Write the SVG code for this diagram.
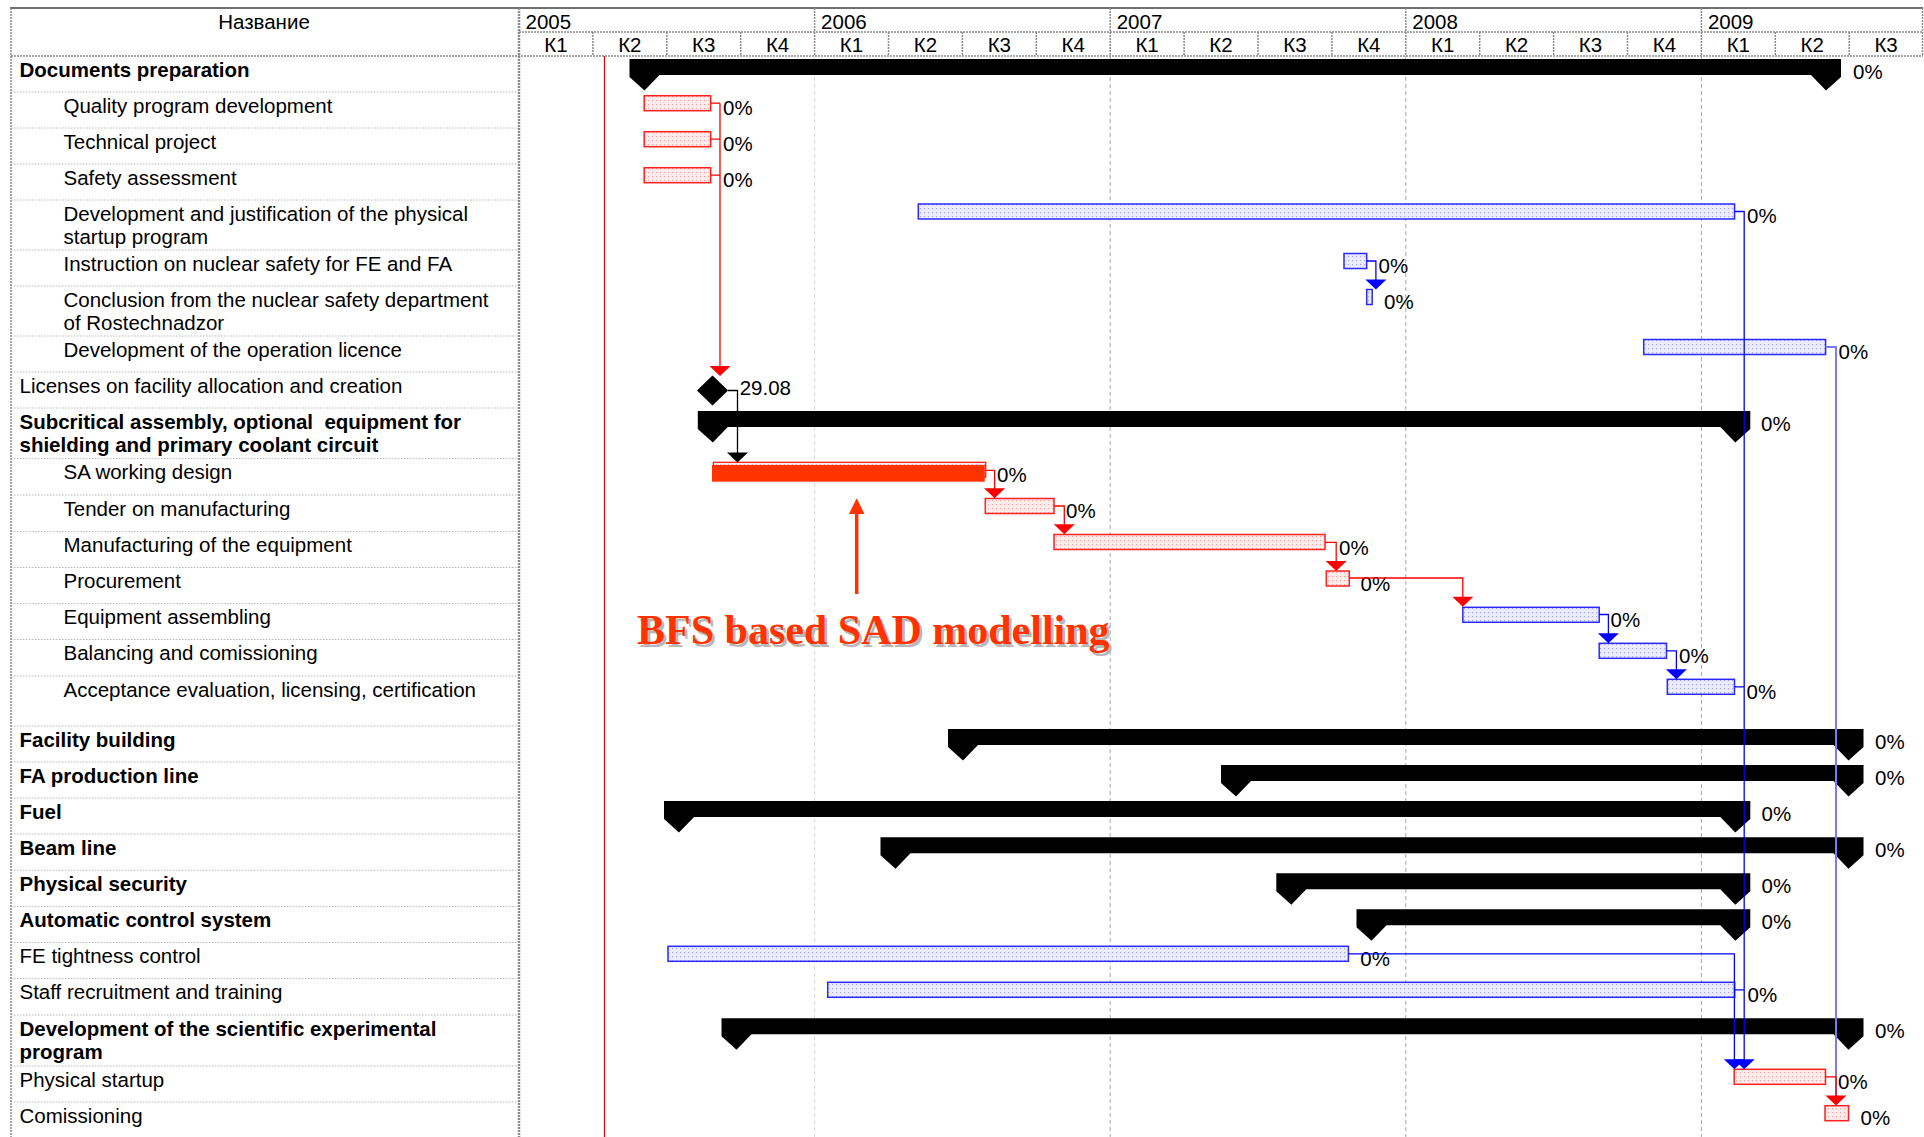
<svg xmlns="http://www.w3.org/2000/svg" width="1924" height="1137" viewBox="0 0 1924 1137">
<style>
text{font-family:"Liberation Sans",Arial,sans-serif;font-size:20.5px;fill:#000}
.b{font-weight:bold}
.q{text-anchor:middle}
.sum{fill:#000}
.tr{fill:url(#pr);stroke:#ff2020;stroke-width:1.5}
.tb{fill:url(#pb);stroke:#2a2aff;stroke-width:1.5}
.cr{fill:none;stroke:#ff0000;stroke-width:1.3}
.cb{fill:none;stroke:#0000ff;stroke-width:1.3}
.cl{fill:none;stroke:#7a7aff;stroke-width:2}
.ck{fill:none;stroke:#000;stroke-width:1.3}
.row{stroke:#b8b8b8;stroke-width:1;stroke-dasharray:1.5 1.5}
.hd{stroke:#8c8c8c;stroke-width:1.5;stroke-dasharray:2 1}
.yr{stroke:#a8a8a8;stroke-width:1;stroke-dasharray:4 3}
.yl{stroke:#d8d8d8;stroke-width:1;stroke-dasharray:4 3}
</style>
<defs>
<pattern id="pr" width="4" height="4" patternUnits="userSpaceOnUse"><rect width="4" height="4" fill="#fdecec"/><rect width="1.2" height="1.2" fill="#f2a4a4"/></pattern>
<pattern id="pb" width="4" height="4" patternUnits="userSpaceOnUse"><rect width="4" height="4" fill="#ececff"/><rect width="1.2" height="1.2" fill="#a8a8f2"/></pattern>
<path id="ah" d="M-10.5,-10 H10.5 L0,0 Z"/>
</defs>
<rect width="1924" height="1137" fill="#fff"/>

<g id="grid">
<line x1="814.6" y1="56" x2="814.6" y2="1137" class="yl"/>
<line x1="1110.2" y1="56" x2="1110.2" y2="1137" class="yr"/>
<line x1="1405.8" y1="56" x2="1405.8" y2="1137" class="yr"/>
<line x1="1701.4" y1="56" x2="1701.4" y2="1137" class="yr"/>
<line x1="604.5" y1="56" x2="604.5" y2="1137" stroke="#e00000" stroke-width="1.2"/>
<g class="row">
<line x1="11" y1="92" x2="519" y2="92"/><line x1="11" y1="128" x2="519" y2="128"/><line x1="11" y1="164" x2="519" y2="164"/>
<line x1="11" y1="200" x2="519" y2="200"/><line x1="11" y1="250" x2="519" y2="250"/><line x1="11" y1="286" x2="519" y2="286"/>
<line x1="11" y1="336" x2="519" y2="336"/><line x1="11" y1="372" x2="519" y2="372"/><line x1="11" y1="408" x2="519" y2="408"/>
<line x1="11" y1="458.5" x2="519" y2="458.5"/><line x1="11" y1="495" x2="519" y2="495"/><line x1="11" y1="531.5" x2="519" y2="531.5"/>
<line x1="11" y1="567.5" x2="519" y2="567.5"/><line x1="11" y1="603.5" x2="519" y2="603.5"/><line x1="11" y1="639.5" x2="519" y2="639.5"/>
<line x1="11" y1="676" x2="519" y2="676"/><line x1="11" y1="726" x2="519" y2="726"/><line x1="11" y1="762" x2="519" y2="762"/>
<line x1="11" y1="798" x2="519" y2="798"/><line x1="11" y1="834" x2="519" y2="834"/><line x1="11" y1="870.3" x2="519" y2="870.3"/>
<line x1="11" y1="906.5" x2="519" y2="906.5"/><line x1="11" y1="942.5" x2="519" y2="942.5"/><line x1="11" y1="978.5" x2="519" y2="978.5"/>
<line x1="11" y1="1015" x2="519" y2="1015"/><line x1="11" y1="1066" x2="519" y2="1066"/><line x1="11" y1="1102" x2="519" y2="1102"/>
</g>
<line x1="10" y1="8" x2="1923" y2="8" stroke="#707070" stroke-width="2"/>
<line x1="11" y1="8" x2="11" y2="1137" class="hd"/>
<line x1="519" y1="8" x2="519" y2="1137" stroke="#8c8c8c" stroke-width="2.5" stroke-dasharray="2 1"/>
<line x1="1922.5" y1="8" x2="1922.5" y2="56" class="hd"/>
<line x1="519" y1="32" x2="1923" y2="32" class="hd"/>
<line x1="11" y1="56" x2="1923" y2="56" class="hd"/>
<g class="hd">
<line x1="814.6" y1="8" x2="814.6" y2="56"/><line x1="1110.2" y1="8" x2="1110.2" y2="56"/><line x1="1405.8" y1="8" x2="1405.8" y2="56"/><line x1="1701.4" y1="8" x2="1701.4" y2="56"/>
<line x1="592.9" y1="32" x2="592.9" y2="56"/><line x1="666.8" y1="32" x2="666.8" y2="56"/><line x1="740.7" y1="32" x2="740.7" y2="56"/>
<line x1="888.5" y1="32" x2="888.5" y2="56"/><line x1="962.4" y1="32" x2="962.4" y2="56"/><line x1="1036.3" y1="32" x2="1036.3" y2="56"/>
<line x1="1184.1" y1="32" x2="1184.1" y2="56"/><line x1="1258" y1="32" x2="1258" y2="56"/><line x1="1331.9" y1="32" x2="1331.9" y2="56"/>
<line x1="1479.7" y1="32" x2="1479.7" y2="56"/><line x1="1553.6" y1="32" x2="1553.6" y2="56"/><line x1="1627.5" y1="32" x2="1627.5" y2="56"/>
<line x1="1775.3" y1="32" x2="1775.3" y2="56"/><line x1="1849.2" y1="32" x2="1849.2" y2="56"/>
</g>
<text x="264" y="29" class="q">Название</text>
<text x="525.5" y="29">2005</text><text x="821.1" y="29">2006</text><text x="1116.7" y="29">2007</text><text x="1412.3" y="29">2008</text><text x="1707.9" y="29">2009</text>
<text class="q" x="556" y="51.5">К1</text><text class="q" x="629.8" y="51.5">К2</text><text class="q" x="703.7" y="51.5">К3</text><text class="q" x="777.6" y="51.5">К4</text>
<text class="q" x="851.5" y="51.5">К1</text><text class="q" x="925.4" y="51.5">К2</text><text class="q" x="999.3" y="51.5">К3</text><text class="q" x="1073.2" y="51.5">К4</text>
<text class="q" x="1147.1" y="51.5">К1</text><text class="q" x="1221" y="51.5">К2</text><text class="q" x="1294.9" y="51.5">К3</text><text class="q" x="1368.8" y="51.5">К4</text>
<text class="q" x="1442.7" y="51.5">К1</text><text class="q" x="1516.6" y="51.5">К2</text><text class="q" x="1590.5" y="51.5">К3</text><text class="q" x="1664.4" y="51.5">К4</text>
<text class="q" x="1738.3" y="51.5">К1</text><text class="q" x="1812.2" y="51.5">К2</text><text class="q" x="1886.1" y="51.5">К3</text>
</g>

<g id="t-documents-preparation">
<text class="b" x="19.5" y="76.5">Documents preparation</text>
<path class="sum" d="M629.5,59 H1841 V77 L1826,90.5 L1811,75 H659.5 L644.5,90.5 L629.5,77 Z"/>
<text x="1853" y="78.5">0%</text>
</g>
<g id="t-quality-program">
<text x="63.5" y="112.5">Quality program development</text>
<rect class="tr" x="644.2" y="95.7" width="66.5" height="15"/>
<text x="723" y="115">0%</text>
</g>
<g id="t-technical-project">
<text x="63.5" y="148.5">Technical project</text>
<rect class="tr" x="644.2" y="131.7" width="66.5" height="15"/>
<text x="723" y="151">0%</text>
</g>
<g id="t-safety-assessment">
<text x="63.5" y="184.5">Safety assessment</text>
<rect class="tr" x="644.2" y="167.7" width="66.5" height="15"/>
<text x="723" y="187">0%</text>
</g>
<g id="t-physical-startup-program">
<text x="63.5" y="220.5">Development and justification of the physical</text>
<text x="63.5" y="244">startup program</text>
<rect class="tb" x="918.3" y="204" width="816.3" height="15"/>
<text x="1747" y="223">0%</text>
</g>
<g id="t-instruction">
<text x="63.5" y="270.5">Instruction on nuclear safety for FE and FA</text>
<rect class="tb" x="1344" y="253.5" width="22.7" height="15"/>
<text x="1378.5" y="273">0%</text>
</g>
<g id="t-conclusion">
<text x="63.5" y="306.5">Conclusion from the nuclear safety department</text>
<text x="63.5" y="330">of Rostechnadzor</text>
<rect class="tb" x="1366.7" y="289.5" width="5.5" height="15"/>
<text x="1384" y="309">0%</text>
</g>
<g id="t-operation-licence">
<text x="63.5" y="356.5">Development of the operation licence</text>
<rect class="tb" x="1643.7" y="339.5" width="181.9" height="15"/>
<text x="1838.5" y="359">0%</text>
</g>
<g id="t-licenses">
<text x="19.5" y="392.5">Licenses on facility allocation and creation</text>
<path d="M712.5,375.5 L728.1,390.5 L712.5,405.5 L696.9,390.5 Z" fill="#000"/>
<text x="739.7" y="395">29.08</text>
</g>
<g id="t-subcritical-assembly">
<text class="b" x="19.5" y="429">Subcritical assembly, optional&#160; equipment for</text>
<text class="b" x="19.5" y="452.3">shielding and primary coolant circuit</text>
<path class="sum" d="M697.8,411 H1750.3 V429 L1735.3,442.5 L1720.3,427 H727.8 L712.8,442.5 L697.8,429 Z"/>
<text x="1761" y="430.5">0%</text>
</g>
<g id="t-sa-working-design">
<text x="63.5" y="479">SA working design</text>
<rect x="713.4" y="462.3" width="272.3" height="15" fill="url(#pr)" stroke="#ff2020" stroke-width="1.3"/>
<rect x="712" y="465" width="272.8" height="16.7" fill="#ff3300"/>
<text x="997" y="481.5">0%</text>
</g>
<g id="t-tender">
<text x="63.5" y="515.5">Tender on manufacturing</text>
<rect class="tr" x="985.3" y="498.5" width="68.7" height="15"/>
<text x="1066" y="518">0%</text>
</g>
<g id="t-manufacturing">
<text x="63.5" y="552">Manufacturing of the equipment</text>
<rect class="tr" x="1054" y="534.5" width="271" height="15"/>
<text x="1339" y="554.5">0%</text>
</g>
<g id="t-procurement">
<text x="63.5" y="588">Procurement</text>
<rect class="tr" x="1326.3" y="571" width="23" height="15"/>
<text x="1360.5" y="590.5">0%</text>
</g>
<g id="t-equipment-assembling">
<text x="63.5" y="624">Equipment assembling</text>
<rect class="tb" x="1462.8" y="607.3" width="136.4" height="15"/>
<text x="1610.5" y="626.5">0%</text>
</g>
<g id="t-balancing">
<text x="63.5" y="660">Balancing and comissioning</text>
<rect class="tb" x="1599.2" y="643.3" width="67.3" height="15"/>
<text x="1679" y="662.5">0%</text>
</g>
<g id="t-acceptance">
<text x="63.5" y="696.5">Acceptance evaluation, licensing, certification</text>
<rect class="tb" x="1667.3" y="679.3" width="67.2" height="15"/>
<text x="1746.5" y="699">0%</text>
</g>
<g id="t-facility-building">
<text class="b" x="19.5" y="746.5">Facility building</text>
<path class="sum" d="M948,729 H1863.5 V747 L1848.5,760.5 L1833.5,745 H978 L963,760.5 L948,747 Z"/>
<text x="1875" y="748.5">0%</text>
</g>
<g id="t-fa-production-line">
<text class="b" x="19.5" y="782.5">FA production line</text>
<path class="sum" d="M1221,765 H1863.5 V783 L1848.5,796.5 L1833.5,781 H1251 L1236,796.5 L1221,783 Z"/>
<text x="1875" y="784.5">0%</text>
</g>
<g id="t-fuel">
<text class="b" x="19.5" y="818.5">Fuel</text>
<path class="sum" d="M664,801 H1750.3 V819 L1735.3,832.5 L1720.3,817 H694 L679,832.5 L664,819 Z"/>
<text x="1761.5" y="820.5">0%</text>
</g>
<g id="t-beam-line">
<text class="b" x="19.5" y="854.5">Beam line</text>
<path class="sum" d="M880.5,837.3 H1863.5 V855.3 L1848.5,868.8 L1833.5,853.3 H910.5 L895.5,868.8 L880.5,855.3 Z"/>
<text x="1875" y="856.5">0%</text>
</g>
<g id="t-physical-security">
<text class="b" x="19.5" y="891">Physical security</text>
<path class="sum" d="M1276.3,873.3 H1750.3 V891.3 L1735.3,904.8 L1720.3,889.3 H1306.3 L1291.3,904.8 L1276.3,891.3 Z"/>
<text x="1761.5" y="893">0%</text>
</g>
<g id="t-automatic-control">
<text class="b" x="19.5" y="927">Automatic control system</text>
<path class="sum" d="M1356.5,909.3 H1750.3 V927.3 L1735.3,940.8 L1720.3,925.3 H1386.5 L1371.5,940.8 L1356.5,927.3 Z"/>
<text x="1761.5" y="929">0%</text>
</g>
<g id="t-fe-tightness">
<text x="19.5" y="963">FE tightness control</text>
<rect class="tb" x="668" y="946.3" width="680.4" height="15"/>
<text x="1360.3" y="965.5">0%</text>
</g>
<g id="t-staff">
<text x="19.5" y="999">Staff recruitment and training</text>
<rect class="tb" x="827.7" y="982.3" width="907" height="15"/>
<text x="1747.6" y="1001.5">0%</text>
</g>
<g id="t-scientific-program">
<text class="b" x="19.5" y="1035.5">Development of the scientific experimental</text>
<text class="b" x="19.5" y="1059">program</text>
<path class="sum" d="M721.5,1018.3 H1863.5 V1036.3 L1848.5,1049.8 L1833.5,1034.3 H751.5 L736.5,1049.8 L721.5,1036.3 Z"/>
<text x="1875" y="1037.5">0%</text>
</g>
<g id="t-physical-startup">
<text x="19.5" y="1086.5">Physical startup</text>
<rect class="tr" x="1734.2" y="1069.3" width="91.3" height="15"/>
<text x="1838" y="1089">0%</text>
</g>
<g id="t-comissioning">
<text x="19.5" y="1122.5">Comissioning</text>
<rect class="tr" x="1825" y="1105.7" width="23.5" height="15"/>
<text x="1860.6" y="1125">0%</text>
</g>

<g id="connectors">
<path class="cr" d="M710.7,103.2 H720 M710.7,139.2 H720 M710.7,175.2 H720 M720,103.2 V367"/>
<use href="#ah" x="720" y="376" fill="#ff0000"/>
<path class="ck" d="M728,390.5 H737.5 V454"/>
<use href="#ah" x="737.5" y="462.5" fill="#000"/>
<path class="cr" d="M985.7,470.3 H994.6 V490"/>
<use href="#ah" x="994.6" y="498.3" fill="#ff0000"/>
<path class="cr" d="M1054,506 H1064.3 V526"/>
<use href="#ah" x="1064.3" y="534.3" fill="#ff0000"/>
<path class="cr" d="M1325,542.3 H1336.2 V562"/>
<use href="#ah" x="1336.2" y="571" fill="#ff0000"/>
<path class="cr" d="M1349.3,578 H1462.8 V598"/>
<use href="#ah" x="1462.8" y="606.8" fill="#ff0000"/>
<path class="cb" d="M1599.2,614.5 H1608.4 V634"/>
<use href="#ah" x="1608.4" y="643.3" fill="#0000ff"/>
<path class="cb" d="M1666.5,650.8 H1676.4 V670"/>
<use href="#ah" x="1676.4" y="679.3" fill="#0000ff"/>
<path class="cb" d="M1366.7,261 H1375.9 V281"/>
<use href="#ah" x="1375.9" y="289.5" fill="#0000ff"/>
<path class="cl" d="M1825.6,347 H1836 V1097"/>
<path class="cb" d="M1734.6,211.5 H1744.2 V1061 M1734.5,686.8 H1744.2 M1734.7,989.8 H1744.2"/>
<path class="cb" d="M1348.4,953.8 H1734.4 V1061"/>
<use href="#ah" x="1734.4" y="1069.3" fill="#0000ff"/>
<use href="#ah" x="1744.2" y="1069.3" fill="#0000ff"/>
<path class="cr" d="M1825.5,1076.8 H1836 V1097"/>
<use href="#ah" x="1836" y="1105.5" fill="#ff0000"/>
</g>

<g id="annotation">
<line x1="856.7" y1="594" x2="856.7" y2="512" stroke="#ff3300" stroke-width="3.5"/>
<path d="M848.9,514 L864.5,514 L856.7,498.3 Z" fill="#ff3300"/>
<text x="639.5" y="646.5" style="font-family:'Liberation Serif','Times New Roman',serif;font-size:42px;font-weight:bold;fill:#b8b8b8">BFS based SAD modelling</text>
<text x="637" y="644" style="font-family:'Liberation Serif','Times New Roman',serif;font-size:42px;font-weight:bold;fill:#ff3300">BFS based SAD modelling</text>
</g>
</svg>
